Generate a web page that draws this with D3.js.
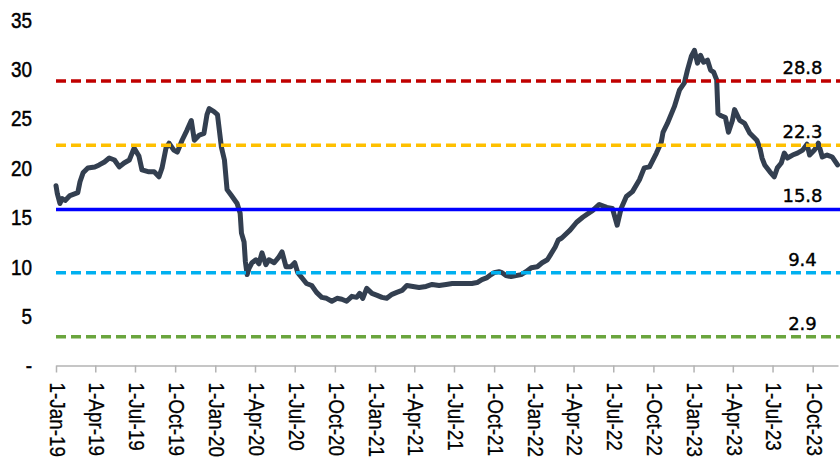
<!DOCTYPE html>
<html>
<head>
<meta charset="utf-8">
<script src="https://cdn.jsdelivr.net/npm/d3@7"></script>
<style>
  body { margin: 0; background: #fff; }
  svg { display: block; }
</style>
</head>
<body>
<svg id="chart" width="840" height="461"></svg>
<script>
// series
const dates = [
  "2019-01-01","2019-01-04","2019-01-10","2019-01-15","2019-01-22","2019-02-02","2019-02-14","2019-02-20","2019-02-25","2019-03-04",
  "2019-03-15","2019-03-31","2019-04-10","2019-04-22","2019-05-03","2019-05-15","2019-05-26","2019-06-06","2019-06-18","2019-06-29",
  "2019-07-10","2019-07-17","2019-08-02","2019-08-14","2019-08-25","2019-09-01","2019-09-10","2019-09-17","2019-09-28","2019-10-06",
  "2019-10-17","2019-10-28","2019-11-07","2019-11-14","2019-11-25","2019-12-06","2019-12-13","2019-12-18","2019-12-29","2020-01-06",
  "2020-01-15","2020-01-22","2020-01-28","2020-02-07","2020-02-20","2020-02-27","2020-03-01","2020-03-07","2020-03-10","2020-03-14",
  "2020-03-18","2020-03-25","2020-04-03","2020-04-10","2020-04-17","2020-04-26","2020-05-03","2020-05-15","2020-05-26","2020-06-02",
  "2020-06-11","2020-06-22","2020-07-01","2020-07-08","2020-07-17","2020-07-28","2020-08-09","2020-08-20","2020-09-01","2020-09-12",
  "2020-09-24","2020-10-06","2020-10-17","2020-10-28","2020-11-09","2020-11-20","2020-11-27","2020-12-04","2020-12-13","2020-12-25",
  "2021-01-06","2021-01-17","2021-01-28","2021-02-09","2021-02-20","2021-03-04","2021-03-15","2021-03-29","2021-04-12","2021-04-28",
  "2021-05-12","2021-05-28","2021-06-13","2021-06-27","2021-07-12","2021-07-28","2021-08-11","2021-08-23","2021-09-03","2021-09-15",
  "2021-09-24","2021-10-01","2021-10-12","2021-10-19","2021-10-28","2021-11-09","2021-11-20","2021-12-02","2021-12-13","2021-12-25",
  "2022-01-08","2022-01-19","2022-01-31","2022-02-07","2022-02-18","2022-02-25","2022-03-05","2022-03-24","2022-04-08","2022-04-22",
  "2022-05-15","2022-05-30","2022-06-16","2022-06-29","2022-07-10","2022-07-19","2022-07-31","2022-08-14","2022-08-30","2022-09-10",
  "2022-09-22","2022-10-08","2022-10-19","2022-10-23","2022-11-02","2022-11-18","2022-11-30","2022-12-11","2022-12-18","2022-12-27",
  "2023-01-03","2023-01-10","2023-01-17","2023-01-24","2023-02-02","2023-02-09","2023-02-16","2023-02-23","2023-02-26","2023-03-04",
  "2023-03-15","2023-03-22","2023-03-31","2023-04-05","2023-04-17","2023-04-28","2023-05-10","2023-05-26","2023-06-02","2023-06-07",
  "2023-06-13","2023-06-25","2023-07-05","2023-07-12","2023-07-21","2023-07-28","2023-08-04","2023-08-16","2023-08-27","2023-09-08",
  "2023-09-18","2023-09-24","2023-10-05","2023-10-14","2023-10-23","2023-11-03","2023-11-15","2023-11-27"
];
const values = [
  18.2,17.4,16.4,16.9,16.7,17.2,17.4,17.5,18.6,19.5,
  20.0,20.1,20.3,20.6,21.0,20.8,20.1,20.5,20.8,22.0,
  21.2,19.8,19.6,19.6,19.1,20.0,22.0,22.5,21.8,21.6,
  22.8,23.8,24.8,22.8,23.3,23.5,25.4,26.0,25.7,25.4,
  22.1,20.8,17.8,17.2,16.4,15.4,13.4,12.5,10.5,9.2,
  9.8,10.4,10.7,10.3,11.4,10.2,10.7,10.4,11.0,11.5,
  10.0,10.0,10.4,9.4,8.9,8.3,8.1,7.4,6.9,6.8,
  6.5,6.8,6.7,6.5,7.0,6.9,7.3,6.8,7.8,7.3,
  7.1,6.9,6.8,7.2,7.4,7.6,8.1,8.0,7.9,8.0,
  8.2,8.1,8.2,8.3,8.3,8.3,8.3,8.4,8.7,8.9,
  9.2,9.4,9.5,9.4,9.1,9.0,9.1,9.2,9.5,9.9,
  10.0,10.4,10.7,11.2,12.0,12.7,12.9,13.7,14.5,15.0,
  15.7,16.3,16.0,15.9,14.2,15.9,17.1,17.6,18.8,20.0,
  20.1,21.5,22.6,23.6,24.5,26.2,27.9,28.6,29.9,31.3,
  31.9,30.6,31.4,30.7,30.9,29.9,29.7,28.9,25.5,25.3,
  25.1,23.6,24.8,25.9,24.8,24.5,23.5,22.8,22.0,21.0,
  20.3,19.6,19.1,20.0,20.5,21.5,21.0,21.3,21.5,21.8,
  22.4,21.3,21.8,22.5,21.1,21.3,21.1,20.3
];

// horizontal reference levels
const refValues = [28.8, 22.3, 15.8, 9.4, 2.9];
const refColors = ["#c00000", "#ffc000", "#0000ff", "#00b0f0", "#6aa53e"];
const refDashed = [true, true, false, true, true];

const yTicks = [0, 5, 10, 15, 20, 25, 30, 35];

const svg = d3.select("#chart"),
  width = +svg.attr("width"),
  height = +svg.attr("height");

const parse = d3.timeParse("%Y-%m-%d");
const series = dates.map((d, i) => ({date: parse(d), value: values[i]}));

const x = d3.scaleTime()
  .domain([parse("2019-01-01"), parse("2023-11-28")])
  .range([56, 838]);

const y = d3.scaleLinear()
  .domain([0, 35])
  .range([365.5, 19.7]);

const fmt = d3.timeFormat("%-d-%b-%y");

// y labels (no axis line), narrow look via horizontal squeeze
svg.append("g")
  .selectAll("text")
  .data(yTicks)
  .join("text")
    .attr("transform", d => `translate(32,${y(d)}) scale(0.86,1)`)
    .attr("dy", "0.36em")
    .attr("text-anchor", "end")
    .style("font-family", "'Liberation Sans', Arial, sans-serif")
    .style("font-size", "22px")
    .style("fill", "#000")
    .style("stroke", "#000")
    .style("stroke-width", 0.5)
    .text(d => d === 0 ? "-" : d);

// x axis
const xAxis = svg.append("g")
  .attr("transform", `translate(0,${y(0)})`)
  .call(d3.axisBottom(x)
    .ticks(d3.timeMonth.every(3))
    .tickSize(7)
    .tickSizeOuter(0)
    .tickFormat(fmt));

xAxis.select(".domain").attr("stroke", "#b3b3b3").attr("stroke-width", 1.5);
xAxis.selectAll(".tick line").attr("stroke", "#b3b3b3").attr("stroke-width", 1.5);
xAxis.selectAll(".tick text")
  .attr("x", null).attr("y", null)
  .attr("dy", "0.3em")
  .attr("transform", "translate(0,17) rotate(90) scale(0.86,1)")
  .attr("text-anchor", "start")
  .style("font-family", "'Liberation Sans', Arial, sans-serif")
  .style("font-size", "22px")
  .style("fill", "#000")
  .style("stroke", "#000")
  .style("stroke-width", 0.3);

// main line
const line = d3.line()
  .x(d => x(d.date))
  .y(d => y(d.value));

svg.append("path")
  .datum(series)
  .attr("d", line)
  .attr("fill", "none")
  .attr("stroke", "#333f50")
  .attr("stroke-width", 5)
  .attr("stroke-linejoin", "round")
  .attr("stroke-linecap", "round");

// reference lines on top of the series
svg.append("g")
  .selectAll("line")
  .data(refValues)
  .join("line")
    .attr("x1", x.range()[0])
    .attr("x2", width)
    .attr("y1", d => y(d))
    .attr("y2", d => y(d))
    .attr("stroke", (d, i) => refColors[i])
    .attr("stroke-width", 3.5)
    .attr("stroke-dasharray", (d, i) => refDashed[i] ? "10,5" : null);

svg.append("g")
  .selectAll("text")
  .data(refValues)
  .join("text")
    .attr("x", 802.5)
    .attr("y", d => y(d) - 7)
    .attr("text-anchor", "middle")
    .style("font-family", "'DejaVu Sans', Verdana, sans-serif")
    .style("font-size", "18px")
    .style("fill", "#000")
    .style("stroke", "#000")
    .style("stroke-width", 0.4)
    .text(d => d.toFixed(1));
</script>
</body>
</html>
